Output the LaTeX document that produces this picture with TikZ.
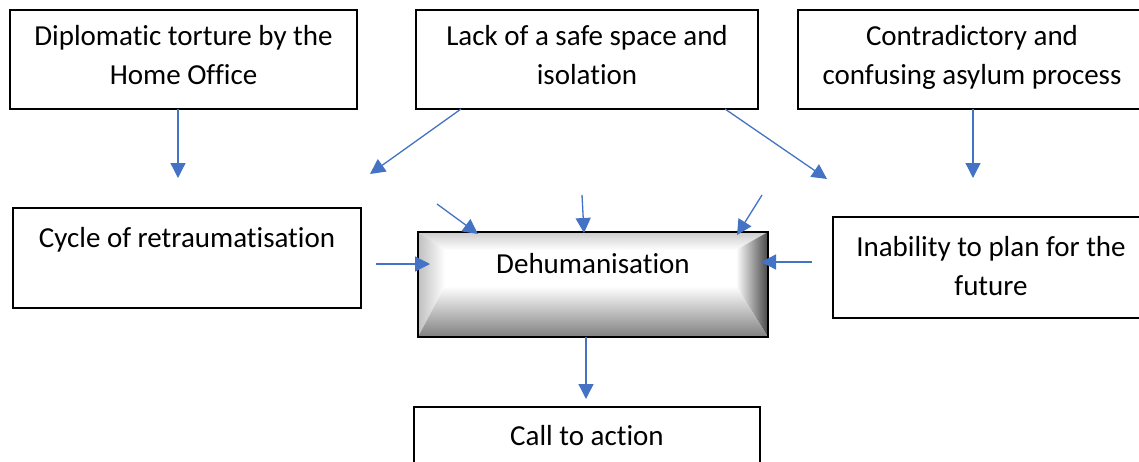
\documentclass[tikz,border=0pt]{standalone}
\usepackage{fontspec}
\setmainfont{Carlito}[Ligatures=NoCommon]
\usetikzlibrary{arrows.meta}
\definecolor{arrowblue}{HTML}{4472C4}
\begin{document}
\begin{tikzpicture}[x=1pt,y=-1pt,
  box/.style={draw=black,line width=1.8pt,fill=white,inner sep=0pt,outer sep=0pt},
  txt/.style={font=\fontsize{29}{38.5}\selectfont,align=center,anchor=base,inner sep=0pt},
  arr/.style={draw=arrowblue,line width=1.3pt,-{Triangle[length=15pt,width=15pt]}}]
\useasboundingbox (0,0) rectangle (1139,461);
% boxes
\node[box,minimum width=347pt,minimum height=99pt] (b1) at (183.5,59.5) {};
\node[box,minimum width=342pt,minimum height=99pt] (b2) at (587,59.5) {};
\node[box,minimum width=348pt,minimum height=99pt] (b3) at (972,59.5) {};
\node[box,minimum width=348pt,minimum height=100pt] (b4) at (187,258) {};
\node[box,minimum width=316pt,minimum height=101pt] (b5) at (991,267.5) {};
\node[box,minimum width=346pt,minimum height=80pt] (b6) at (587,447) {};
% bevelled box
\coordinate (o1) at (418,232); \coordinate (o2) at (768,232);
\coordinate (o3) at (768,337); \coordinate (o4) at (418,337);
\coordinate (i1) at (445,250); \coordinate (i2) at (736,250);
\coordinate (i3) at (736,286); \coordinate (i4) at (445,286);
\fill[white] (i1) -- (i2) -- (i3) -- (i4) -- cycle;
\shade[top color=gray!40,bottom color=white] (o1) -- (o2) -- (i2) -- (i1) -- cycle;
\shade[left color=gray!50,right color=white] (o1) -- (i1) -- (i4) -- (o4) -- cycle;
\shade[left color=white,right color=black!72] (o2) -- (i2) -- (i3) -- (o3) -- cycle;
\shade[top color=white,bottom color=black!50] (o4) -- (i4) -- (i3) -- (o3) -- cycle;
\node[draw=black,line width=2.6pt,inner sep=0pt,outer sep=0pt,minimum width=350pt,minimum height=105pt] (dh) at (593,284.5) {};
% texts (anchor base = last line)
\node[txt] (t1) at (183.5,84) {Diplomatic torture by the\\Home Office};
\node[txt] (t2) at (587,84) {Lack of a safe space and\\isolation};
\node[txt] (t3) at (972,84) {Contradictory and\\confusing asylum process};
\node[txt] (t4) at (187,247) {Cycle of retraumatisation};
\node[txt] (t5) at (991,295) {Inability to plan for the\\future};
\node[txt] (t6) at (587,445) {Call to action};
\node[txt] (t7) at (593,273) {Dehumanisation};
% arrow ends
\coordinate (e1) at (178,178);
\coordinate (e2) at (370,174);
\coordinate (e3) at (827,179);
\coordinate (e4) at (973,178);
\coordinate (s5) at (437,204); \coordinate (e5) at (478,234);
\coordinate (s6) at (582,195); \coordinate (e6) at (584,233);
\coordinate (s7) at (762,195); \coordinate (e7) at (737,235);
\coordinate (s8) at (376,264); \coordinate (e8) at (430,264);
\coordinate (s9) at (812,262); \coordinate (e9) at (761,262);
\coordinate (e10) at (586,399);
% arrows
\draw[arr] (b1.south -| e1) -- (e1);
\draw[arr] (b2.south -| 461,0) -- (e2);
\draw[arr] (b2.south -| 725,0) -- (e3);
\draw[arr] (b3.south -| e4) -- (e4);
\draw[arr] (s5) -- (e5);
\draw[arr] (s6) -- (e6);
\draw[arr] (s7) -- (e7);
\draw[arr] (s8) -- (e8);
\draw[arr] (s9) -- (e9);
\draw[arr] (dh.south -| e10) -- (e10);
\end{tikzpicture}
\end{document}
